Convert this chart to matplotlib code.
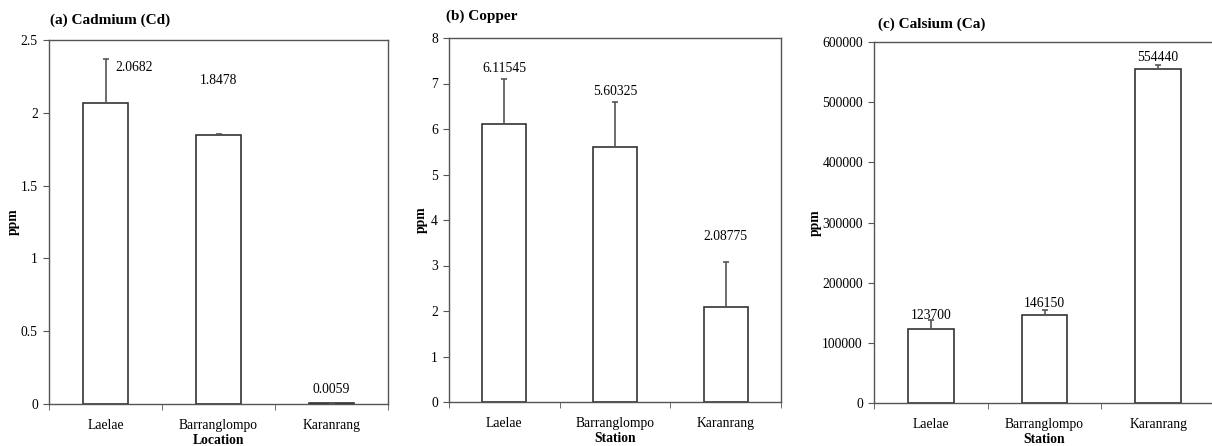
import matplotlib
matplotlib.use("Agg")
import matplotlib.pyplot as plt

stations = ["Laelae", "Barranglompo", "Karanrang"]

cd_values = [2.0682, 1.8478, 0.0059]
cd_err = [0.30, 0.008, 0.0]
cd_labels = ["2.0682", "1.8478", "0.0059"]

cu_values = [6.11545, 5.60325, 2.08775]
cu_err = [0.98, 1.0, 0.99]
cu_labels = ["6.11545", "5.60325", "2.08775"]

ca_values = [123700, 146150, 554440]
ca_err = [14000, 9000, 7000]
ca_labels = ["123700", "146150", "554440"]

plt.rcParams['font.family'] = ['Liberation Serif', 'DejaVu Serif']
W, H = 1212, 446
fig = plt.figure(figsize=(W / 100, H / 100), dpi=100)

LINE = '#555555'
FS = 9.8


def add_ax(left, right, top, bottom):
    return fig.add_axes([left / W, 1 - bottom / H, (right - left) / W, (bottom - top) / H])


panels = [
    dict(box=(49, 388, 40, 404), vals=cd_values, err=cd_err, labels=cd_labels,
         ylim=(0, 2.5), yticks=[0, 0.5, 1, 1.5, 2, 2.5], yfmt=lambda v: f"{v:g}",
         title="(a) Cadmium (Cd)", xlabel="Location",
         label_pos=[(0.09, 2.31, 'left'), (1.0, 2.22, 'center'), (2.0, 0.1, 'center')],
         title_x=50, title_y=20, ylab_x=13),
    dict(box=(449, 781, 38, 402), vals=cu_values, err=cu_err, labels=cu_labels,
         ylim=(0, 8), yticks=list(range(0, 9)), yfmt=lambda v: f"{v:g}",
         title="(b) Copper", xlabel="Station",
         label_pos=[(0.0, 7.32, 'center'), (1.0, 6.83, 'center'), (2.0, 3.63, 'center')],
         title_x=446, title_y=16, ylab_x=421),
    dict(box=(874, 1215, 42, 403), vals=ca_values, err=ca_err, labels=ca_labels,
         ylim=(0, 600000), yticks=list(range(0, 600001, 100000)), yfmt=lambda v: f"{int(v)}",
         title="(c) Calsium (Ca)", xlabel="Station",
         label_pos=[(0.0, 145000, 'center'), (1.0, 166000, 'center'), (2.0, 575000, 'center')],
         title_x=878, title_y=24, ylab_x=815),
]

for p in panels:
    ax = add_ax(*p['box'])
    x = list(range(len(stations)))
    ax.bar(x, p['vals'], width=0.4, color='white', edgecolor='#333333', linewidth=1.2, zorder=2)
    ax.errorbar(x, p['vals'], yerr=[[0] * 3, p['err']], fmt='none', ecolor=LINE,
                elinewidth=1.2, capsize=2.5, capthick=1.2, zorder=3)
    for (lx, ly, ha), t in zip(p['label_pos'], p['labels']):
        ax.text(lx, ly, t, ha=ha, va='center', fontsize=FS)
    ax.set_xlim(-0.5, 2.5)
    ax.set_ylim(*p['ylim'])
    ax.set_xticks(x)
    ax.set_xticklabels(stations, fontsize=FS)
    ax.set_xticks([-0.5, 0.5, 1.5, 2.5], minor=True)
    ax.tick_params(axis='x', which='major', length=0, pad=11)
    ax.tick_params(axis='x', which='minor', length=4, direction='out', color=LINE)
    ax.set_yticks(p['yticks'])
    ax.set_yticklabels([p['yfmt'](v) for v in p['yticks']], fontsize=FS)
    ax.tick_params(axis='y', length=4, direction='out', color=LINE, pad=4)
    for s in ax.spines.values():
        s.set_color(LINE)
        s.set_linewidth(1.0)
    ax.set_xlabel(p['xlabel'], fontsize=FS, fontweight='bold', labelpad=1)
    fig.text(p['ylab_x'] / W, 1 - ((p['box'][2] + p['box'][3]) / 2) / H, "ppm",
             rotation=90, ha='center', va='center', fontsize=FS, fontweight='bold')
    fig.text(p['title_x'] / W, 1 - p['title_y'] / H, p['title'], ha='left', va='center',
             fontsize=11, fontweight='bold')

fig.savefig("out.png", dpi=100)
